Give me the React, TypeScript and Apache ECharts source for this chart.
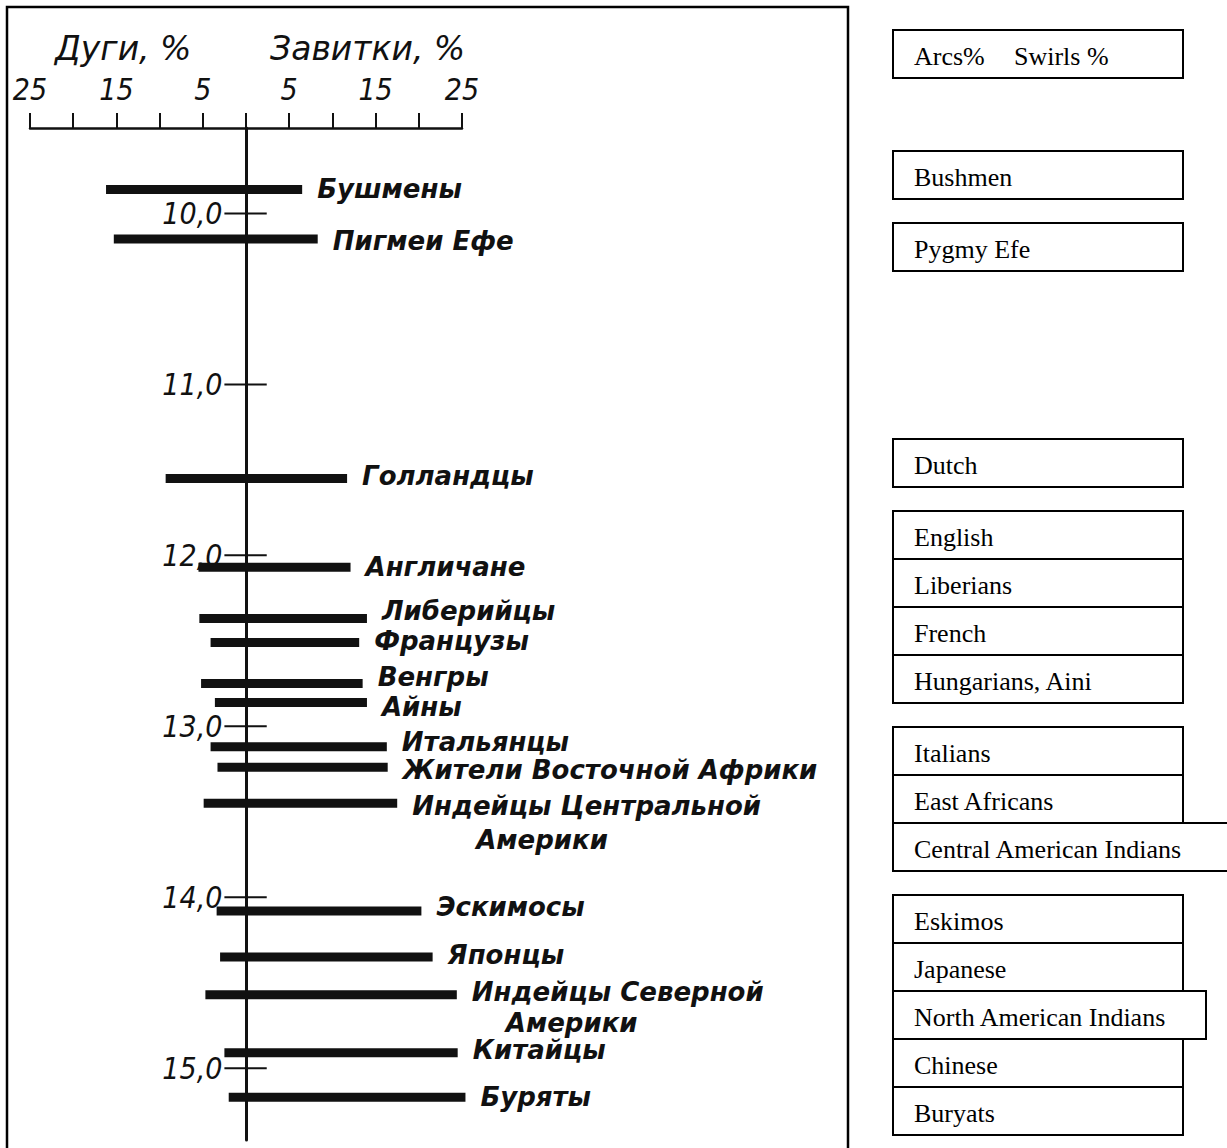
import React, { useEffect, useRef } from "react";
import * as echarts from "echarts";

// ---- data ----
const groupNames = [
  "Бушмены",
  "Пигмеи Ефе",
  "Голландцы",
  "Англичане",
  "Либерийцы",
  "Французы",
  "Венгры",
  "Айны",
  "Итальянцы",
  "Жители Восточной Африки",
  "Индейцы Центральной",
  "Эскимосы",
  "Японцы",
  "Индейцы Северной",
  "Китайцы",
  "Буряты",
];
const groupNamesLine2 = ["", "", "", "", "", "", "", "", "", "", "Америки", "", "", "Америки", "", ""];
const deltaIndex = [9.86, 10.15, 11.55, 12.07, 12.37, 12.51, 12.75, 12.86, 13.12, 13.24, 13.45, 14.08, 14.35, 14.57, 14.91, 15.17];
const arcsPct = [16.2, 15.3, 9.3, 5.5, 5.4, 4.1, 5.2, 3.6, 4.1, 3.3, 4.9, 3.4, 3.0, 4.7, 2.5, 2.0];
const swirlsPct = [6.5, 8.3, 11.7, 12.1, 14.0, 13.1, 13.5, 14.0, 16.3, 16.4, 17.5, 20.3, 21.6, 24.4, 24.5, 25.4];
const deltaTicks = [10, 11, 12, 13, 14, 15];
const percentLabels = [-25, -15, -5, 5, 15, 25];
const titleArcs = "Дуги, %";
const titleSwirls = "Завитки, %";

// English translation boxes
const legendHeader = ["Arcs%", "Swirls %"];
const englishGroups = [
  ["Bushmen"],
  ["Pygmy Efe"],
  ["Dutch"],
  ["English", "Liberians", "French", "Hungarians, Aini"],
  ["Italians", "East Africans", "Central American Indians"],
  ["Eskimos", "Japanese", "North American Indians", "Chinese", "Buryats"],
];

// ---- layout (not data) ----
const boxTops = [151, 223, 439, 511, 727, 895];
const wideRows: Record<string, number> = { "Central American Indians": 345, "North American Indians": 313 };
const labelDy = [-1, 2, -2, 0, -8, -2, -7, 5, -5, 3, 3, -4, -2, -3, -3, 0];
const line2Dy: Record<number, number> = { 10: 37, 13: 28 };
const line2Indent: Record<number, number> = { 10: 64, 13: 34 };

const INK = "#111111";
const CYR = "'DejaVu Sans Condensed', 'DejaVu Sans', sans-serif";
const CYR_WIDE = "'DejaVu Sans', sans-serif";
const SERIF = "'Liberation Serif', 'Times New Roman', serif";

export default function App() {
  const ref = useRef<HTMLDivElement>(null);

  useEffect(() => {
    document.body.style.margin = "0";
    const chart = echarts.init(ref.current!, null, { renderer: "svg" });

    const barData = groupNames.map((_, i) => [arcsPct[i], swirlsPct[i], deltaIndex[i], i]);

    const graphics: any[] = [];
    // left frame
    graphics.push({
      type: "rect",
      shape: { x: 7, y: 7, width: 841, height: 1200 },
      style: { fill: "none", stroke: "#000", lineWidth: 2.5 },
      z: 10,
    });
    // titles
    graphics.push({
      type: "text",
      style: { text: titleArcs, x: 55, y: 48, fontSize: 33, fontStyle: "italic", fontFamily: CYR_WIDE, fill: INK, verticalAlign: "middle", align: "left" },
    });
    graphics.push({
      type: "text",
      style: { text: titleSwirls, x: 270, y: 48, fontSize: 33, fontStyle: "italic", fontFamily: CYR_WIDE, fill: INK, verticalAlign: "middle", align: "left" },
    });

    // right boxes
    const BX = 893;
    const BW = 290;
    const RH = 48;
    const addRow = (top: number, w: number) => {
      graphics.push({
        type: "rect",
        shape: { x: BX, y: top, width: w, height: RH },
        style: { fill: "#fff", stroke: "#000", lineWidth: 2 },
      });
    };
    addRow(30, BW);
    graphics.push({ type: "text", style: { text: legendHeader[0], x: 914, y: 56, fontSize: 26, fontFamily: SERIF, fill: "#000", verticalAlign: "middle" }, z: 5 });
    graphics.push({ type: "text", style: { text: legendHeader[1], x: 1014, y: 56, fontSize: 26, fontFamily: SERIF, fill: "#000", verticalAlign: "middle" }, z: 5 });
    englishGroups.forEach((rows, gi) => {
      rows.forEach((name, ri) => {
        const top = boxTops[gi] + ri * RH;
        addRow(top, wideRows[name] || BW);
      });
    });
    englishGroups.forEach((rows, gi) => {
      rows.forEach((name, ri) => {
        const top = boxTops[gi] + ri * RH;
        graphics.push({
          type: "text",
          style: { text: name, x: 914, y: top + 26, fontSize: 26, fontFamily: SERIF, fill: "#000", verticalAlign: "middle" },
          z: 5,
        });
      });
    });

    const labelStyle = {
      align: "left",
      verticalAlign: "middle",
      fontSize: 26,
      fontStyle: "italic",
      fontWeight: "bold",
      fontFamily: CYR_WIDE,
      fill: INK,
    };

    const option: any = {
      animation: false,
      backgroundColor: "#ffffff",
      grid: { left: 30, width: 432, top: 128, bottom: 8 },
      xAxis: {
        type: "value",
        position: "top",
        min: -25,
        max: 25,
        interval: 5,
        axisLine: { onZero: false, lineStyle: { color: INK, width: 2.5 } },
        axisTick: { show: true, length: 15, lineStyle: { color: INK, width: 2 } },
        axisLabel: {
          margin: 24,
          color: INK,
          fontSize: 30,
          fontStyle: "italic",
          fontFamily: CYR,
          formatter: (v: number) => (percentLabels.indexOf(v) >= 0 ? String(Math.abs(v)) : ""),
        },
        splitLine: { show: false },
      },
      yAxis: {
        type: "value",
        inverse: true,
        min: 9.5,
        max: 15.42,
        axisLine: { show: true, onZero: true, lineStyle: { color: INK, width: 3 } },
        axisTick: { show: false },
        axisLabel: { show: false },
        splitLine: { show: false },
      },
      series: [
        {
          type: "custom",
          name: "ticks",
          data: deltaTicks.map((v) => [0, v]),
          encode: { x: 0, y: 1 },
          renderItem: (_p: any, api: any) => {
            const v = api.value(1);
            const l = api.coord([-2.5, v]);
            const r = api.coord([2.4, v]);
            return {
              type: "group",
              children: [
                { type: "line", shape: { x1: l[0], y1: l[1], x2: r[0], y2: r[1] }, style: { stroke: INK, lineWidth: 2 } },
                {
                  type: "text",
                  style: {
                    text: v.toFixed(1).replace(".", ","),
                    x: l[0] - 2,
                    y: l[1],
                    align: "right",
                    verticalAlign: "middle",
                    fontSize: 30,
                    fontStyle: "italic",
                    fontFamily: CYR,
                    fill: INK,
                  },
                },
              ],
            };
          },
        },
        {
          type: "custom",
          name: "bars",
          data: barData,
          encode: { x: [0, 1], y: 2 },
          renderItem: (_p: any, api: any) => {
            const a = api.value(0);
            const s = api.value(1);
            const d = api.value(2);
            const i = api.value(3);
            const left = api.coord([-a, d]);
            const right = api.coord([s, d]);
            const h = 9;
            const children: any[] = [
              { type: "rect", shape: { x: left[0], y: left[1] - h / 2, width: right[0] - left[0], height: h }, style: { fill: INK } },
              {
                type: "text",
                style: { ...labelStyle, text: groupNames[i], x: right[0] + 15, y: right[1] + labelDy[i] },
              },
            ];
            if (groupNamesLine2[i]) {
              children.push({
                type: "text",
                style: {
                  ...labelStyle,
                  text: groupNamesLine2[i],
                  x: right[0] + 15 + (line2Indent[i] || 0),
                  y: right[1] + (line2Dy[i] || 30),
                },
              });
            }
            return { type: "group", children };
          },
        },
      ],
      graphic: graphics,
    };

    chart.setOption(option);
    return () => chart.dispose();
  }, []);

  return <div ref={ref} style={{ position: "absolute", left: 0, top: 0, width: 1227, height: 1148 }} />;
}
